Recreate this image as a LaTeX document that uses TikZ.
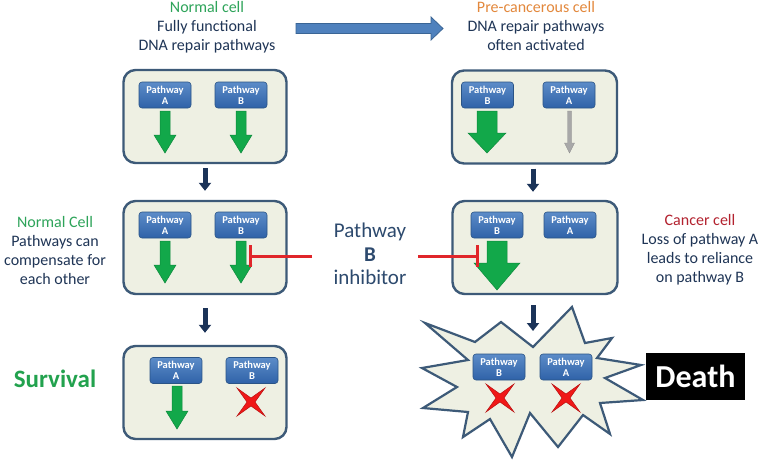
\documentclass[tikz,border=0pt]{standalone}
\usepackage{fontspec}
\setmainfont{Carlito}
\usetikzlibrary{arrows.meta}
\definecolor{boxfill}{HTML}{EEF0E3}
\definecolor{boxline}{HTML}{3D5A78}
\definecolor{btntop}{HTML}{5C8CC8}
\definecolor{btnbot}{HTML}{2F62A8}
\definecolor{btnline}{HTML}{2A5486}
\definecolor{grn}{HTML}{12A84A}
\definecolor{grnline}{HTML}{0E8A3C}
\definecolor{navy}{HTML}{1B3358}
\definecolor{txt}{HTML}{1F3556}
\definecolor{midtxt}{HTML}{2D4A6E}
\definecolor{ngreen}{HTML}{2EA45A}
\definecolor{survgreen}{HTML}{22A24E}
\definecolor{orng}{HTML}{E3883C}
\definecolor{dred}{HTML}{B3222F}
\definecolor{inred}{HTML}{E0262A}
\definecolor{xred}{HTML}{F01818}
\definecolor{xline}{HTML}{B81010}
\definecolor{gry}{HTML}{A8A8A8}
\definecolor{gryline}{HTML}{909090}
\definecolor{bigblue}{HTML}{4F81BD}
\definecolor{bigblueline}{HTML}{3A6595}
\tikzset{
  cellbox/.style={draw=boxline, line width=2.4pt, fill=boxfill, rounded corners=12pt,
    minimum width=163pt, minimum height=93pt, inner sep=0pt},
  btn/.style={draw=btnline, line width=0.6pt, top color=btntop, bottom color=btnbot,
    rounded corners=3pt, minimum width=52pt, minimum height=26pt, inner sep=0pt,
    text=white, font=\fontsize{10.5}{11}\selectfont\bfseries, align=center},
  lbl/.style={font=\fontsize{16}{19}\selectfont, align=center, text=txt, inner sep=0pt},
  navyarrow/.style={draw=navy, line width=5pt, -{Triangle[width=12pt,length=8pt]}},
  inhib/.style={draw=inred, line width=3pt, -{Bar[width=22pt]}},
  grnarr/.style={fill=grn, draw=grnline, line width=0.5pt},
  gryarr/.style={fill=gry, draw=gryline, line width=0.4pt},
  xmark/.style={fill=xred, draw=xline, line width=0.5pt},
  starshape/.style={draw=boxline, line width=2.2pt, fill=boxfill, line join=miter},
}
\newcommand\blockarr[7]{\path[#1] ({#2-#6},#3) -- ({#2+#6},#3) -- ({#2+#6},#4) -- ({#2+#7},#4) -- (#2,#5) -- ({#2-#7},#4) -- ({#2-#6},#4) -- cycle;}
\newcommand\redx[2]{\path[xmark,shift={(#1,#2)}] (14,14) -- (0,4) -- (-14,14) -- (-4,0) -- (-14,-14) -- (0,-4) -- (14,-14) -- (4,0) -- cycle;}
\begin{document}
\begin{tikzpicture}[x=1pt,y=-1pt]
\useasboundingbox (0,0) rectangle (761,459);
\fill[white] (0,0) rectangle (761,459);

% titles
\node[lbl,anchor=north] (tl) at (207,1) {\textcolor{ngreen}{Normal cell}\\Fully functional\\DNA repair pathways};
\node[lbl,anchor=north] (tr) at (536,1) {\textcolor{orng}{Pre-cancerous cell}\\DNA repair pathways\\often activated};
\path[fill=bigblue, draw=bigblueline, line width=0.8pt]
  (296,23.5) -- (431,23.5) -- (431,17) -- (443,28.5) -- (431,40) -- (431,33.5) -- (296,33.5) -- cycle;

% side labels
\node[lbl,anchor=north] (nc) at (55,216) {\textcolor{ngreen}{Normal Cell}\\Pathways can\\compensate for\\each other};
\node[lbl,anchor=north] (cc) at (700,214) {\textcolor{dred}{Cancer cell}\\Loss of pathway A\\leads to reliance\\on pathway B};
\node[anchor=north, align=center, inner sep=0pt, text=midtxt, font=\fontsize{21}{23.5}\selectfont] (inh) at (370,223) {Pathway\\\textbf{B}\\inhibitor};
\node[anchor=base, inner sep=0pt, text=survgreen, font=\fontsize{25}{28}\selectfont\bfseries] (surv) at (55,387) {Survival};

% boxes
\node[cellbox] (L1) at (205,116.5) {};
\node[cellbox] (L2) at (205,247.5) {};
\node[cellbox] (L3) at (205,392.5) {};
\node[cellbox, minimum width=165pt] (R1) at (534.5,117) {};
\node[cellbox, minimum width=165pt] (R2) at (535,247.5) {};

% starburst
\path[starshape] (425,323) -- (475,342) -- (501,322) -- (533,347) -- (572,307) -- (585,343)
  -- (612,338) -- (597,358) -- (641,365) -- (605,378) -- (643,400) -- (600,403)
  -- (610,434) -- (583,415) -- (558,447) -- (530,413) -- (512,457) -- (490,419)
  -- (463,437) -- (468,412) -- (423,408) -- (457,387) -- (422,368) -- (468,360) -- cycle;
\coordinate (starTop) at (533,331);

% buttons
\node[btn] (L1a) at (165,95) {Pathway\\A};
\node[btn] (L1b) at (241,95) {Pathway\\B};
\node[btn] (R1b) at (487.5,95) {Pathway\\B};
\node[btn] (R1a) at (569,95) {Pathway\\A};
\node[btn] (L2a) at (165,225) {Pathway\\A};
\node[btn] (L2b) at (241,225) {Pathway\\B};
\node[btn] (R2b) at (497,225) {Pathway\\B};
\node[btn] (R2a) at (570,225) {Pathway\\A};
\node[btn] (L3a) at (176,370.5) {Pathway\\A};
\node[btn] (L3b) at (252,370.5) {Pathway\\B};
\node[btn] (Sb) at (499,367) {Pathway\\B};
\node[btn] (Sa) at (566,367) {Pathway\\A};

% pathway arrows
\blockarr{grnarr}{165}{111}{135}{153}{5}{11}
\blockarr{grnarr}{241}{111}{135}{153}{5}{11}
\blockarr{grnarr}{487}{111}{133}{153}{10}{19}
\blockarr{gryarr}{569.5}{111}{143}{153}{2}{5}
\blockarr{grnarr}{165}{241}{265}{283}{5}{11}
\blockarr{grnarr}{241}{241}{265}{283}{5}{11}
\blockarr{grnarr}{497}{241}{263}{290}{10}{23}
\blockarr{grnarr}{177}{386}{411}{429}{5}{11}

% red crosses
\redx{251}{402}
\redx{500}{398}
\redx{566}{398}

% death
\node[fill=black, text=white, font=\fontsize{32}{34}\selectfont\bfseries, minimum width=99pt, minimum height=47pt, inner sep=0pt] (death) at (695.5,376.5) {Death};

% connectors
\draw[navyarrow, shorten <=4pt, shorten >=9pt] (L1.south) -- (L2.north);
\draw[navyarrow, shorten <=13pt, shorten >=12pt] (L2.south) -- (L3.north);
\draw[navyarrow, shorten <=4pt, shorten >=8pt] ([xshift=-1.5pt]R1.south) -- ([xshift=-2pt]R2.north);
\draw[navyarrow, shorten <=10pt] ([xshift=-2pt]R2.south) -- (starTop);

\coordinate (inhLs) at (312,256);
\coordinate (inhLe) at (249,256);
\coordinate (inhRs) at (418,256);
\coordinate (inhRe) at (479,256);
\draw[inhib] (inhLs) -- (inhLe);
\draw[inhib] (inhRs) -- (inhRe);
\end{tikzpicture}
\end{document}
